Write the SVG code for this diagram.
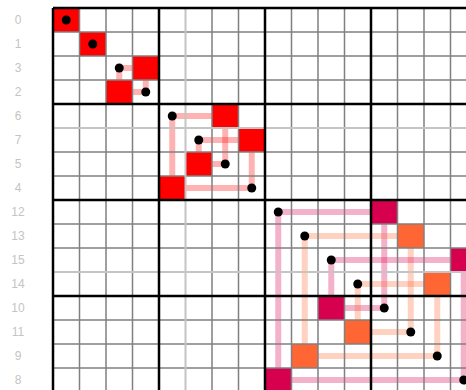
<svg xmlns="http://www.w3.org/2000/svg" width="466" height="390" viewBox="0 0 466 390">
<style>
.bg{fill:#ffffff}
.lbl{font-family:"Liberation Sans",Arial,sans-serif;font-size:12px;fill:#c4c4c4;text-anchor:middle}
.thin{stroke:#808080;stroke-width:1.5}
.faint{stroke:#c4c4c4;stroke-width:2}
.thick{stroke:#000000;stroke-width:2.5}
.lr{stroke:#ff0000;stroke-opacity:0.3;stroke-width:6;fill:none}
.lc{stroke:#d6004f;stroke-opacity:0.3;stroke-width:6;fill:none}
.lo{stroke:#ff6633;stroke-opacity:0.3;stroke-width:6;fill:none}
.cr{fill:#ff0000}
.cc{fill:#d6004f}
.co{fill:#ff6633}
.dot{fill:#000000}
</style>
<rect class="bg" x="0" y="0" width="466" height="390"/>
<g id="labels">
<text class="lbl" x="18" y="24">0</text>
<text class="lbl" x="18" y="48">1</text>
<text class="lbl" x="18" y="72">3</text>
<text class="lbl" x="18" y="96">2</text>
<text class="lbl" x="18" y="120">6</text>
<text class="lbl" x="18" y="144">7</text>
<text class="lbl" x="18" y="168">5</text>
<text class="lbl" x="18" y="192">4</text>
<text class="lbl" x="18" y="216">12</text>
<text class="lbl" x="18" y="240">13</text>
<text class="lbl" x="18" y="264">15</text>
<text class="lbl" x="18" y="288">14</text>
<text class="lbl" x="18" y="312">10</text>
<text class="lbl" x="18" y="336">11</text>
<text class="lbl" x="18" y="360">9</text>
<text class="lbl" x="18" y="384">8</text>
</g>
<g id="connectors">
<path class="lr" d="M119.25 68H145.75M145.75 92V68"/>
<path class="lr" d="M145.75 92H119.25M119.25 68V92"/>
<path class="lr" d="M172.25 116H225.25M225.25 164V116"/>
<path class="lr" d="M198.75 140H251.75M251.75 188V140"/>
<path class="lr" d="M225.25 164H198.75M198.75 140V164"/>
<path class="lr" d="M251.75 188H172.25M172.25 116V188"/>
<path class="lc" d="M278.25 212H384.25M384.25 308V212"/>
<path class="lo" d="M304.75 236H410.75M410.75 332V236"/>
<path class="lc" d="M331.25 260H463.75M463.75 380V260"/>
<path class="lo" d="M357.75 284H437.25M437.25 356V284"/>
<path class="lc" d="M384.25 308H331.25M331.25 260V308"/>
<path class="lo" d="M410.75 332H357.75M357.75 284V332"/>
<path class="lo" d="M437.25 356H304.75M304.75 236V356"/>
<path class="lc" d="M463.75 380H278.25M278.25 212V380"/>
</g>
<g id="cells">
<rect class="cr" x="53" y="8" width="26.5" height="24"/>
<rect class="cr" x="79.5" y="32" width="26.5" height="24"/>
<rect class="cr" x="132.5" y="56" width="26.5" height="24"/>
<rect class="cr" x="106" y="80" width="26.5" height="24"/>
<rect class="cr" x="212" y="104" width="26.5" height="24"/>
<rect class="cr" x="238.5" y="128" width="26.5" height="24"/>
<rect class="cr" x="185.5" y="152" width="26.5" height="24"/>
<rect class="cr" x="159" y="176" width="26.5" height="24"/>
<rect class="cc" x="371" y="200" width="26.5" height="24"/>
<rect class="co" x="397.5" y="224" width="26.5" height="24"/>
<rect class="cc" x="450.5" y="248" width="26.5" height="24"/>
<rect class="co" x="424" y="272" width="26.5" height="24"/>
<rect class="cc" x="318" y="296" width="26.5" height="24"/>
<rect class="co" x="344.5" y="320" width="26.5" height="24"/>
<rect class="co" x="291.5" y="344" width="26.5" height="24"/>
<rect class="cc" x="265" y="368" width="26.5" height="24"/>
</g>
<g id="grid">
<path class="thin" d="M79.5 8V392M106 8V392M132.5 8V392M212 8V392M238.5 8V392M291.5 8V392M318 8V392M344.5 8V392M397.5 8V392M424 8V392M450.5 8V392"/>
<path class="thin" d="M53 32H477M53 56H477M53 80H477M53 152H477M53 176H477M53 224H477M53 248H477M53 320H477M53 344H477M53 368H477"/>
<path class="faint" d="M185.5 8V392M53 128H477M53 272H477"/>
<path class="thick" d="M53 8V392M159 8V392M265 8V392M371 8V392M53 8H477M53 104H477M53 200H477M53 296H477"/>
</g>
<g id="dots">
<circle class="dot" cx="66.25" cy="20" r="4.5"/>
<circle class="dot" cx="92.75" cy="44" r="4.5"/>
<circle class="dot" cx="119.25" cy="68" r="4.5"/>
<circle class="dot" cx="145.75" cy="92" r="4.5"/>
<circle class="dot" cx="172.25" cy="116" r="4.5"/>
<circle class="dot" cx="198.75" cy="140" r="4.5"/>
<circle class="dot" cx="225.25" cy="164" r="4.5"/>
<circle class="dot" cx="251.75" cy="188" r="4.5"/>
<circle class="dot" cx="278.25" cy="212" r="4.5"/>
<circle class="dot" cx="304.75" cy="236" r="4.5"/>
<circle class="dot" cx="331.25" cy="260" r="4.5"/>
<circle class="dot" cx="357.75" cy="284" r="4.5"/>
<circle class="dot" cx="384.25" cy="308" r="4.5"/>
<circle class="dot" cx="410.75" cy="332" r="4.5"/>
<circle class="dot" cx="437.25" cy="356" r="4.5"/>
<circle class="dot" cx="463.75" cy="380" r="4.5"/>
</g>
</svg>
